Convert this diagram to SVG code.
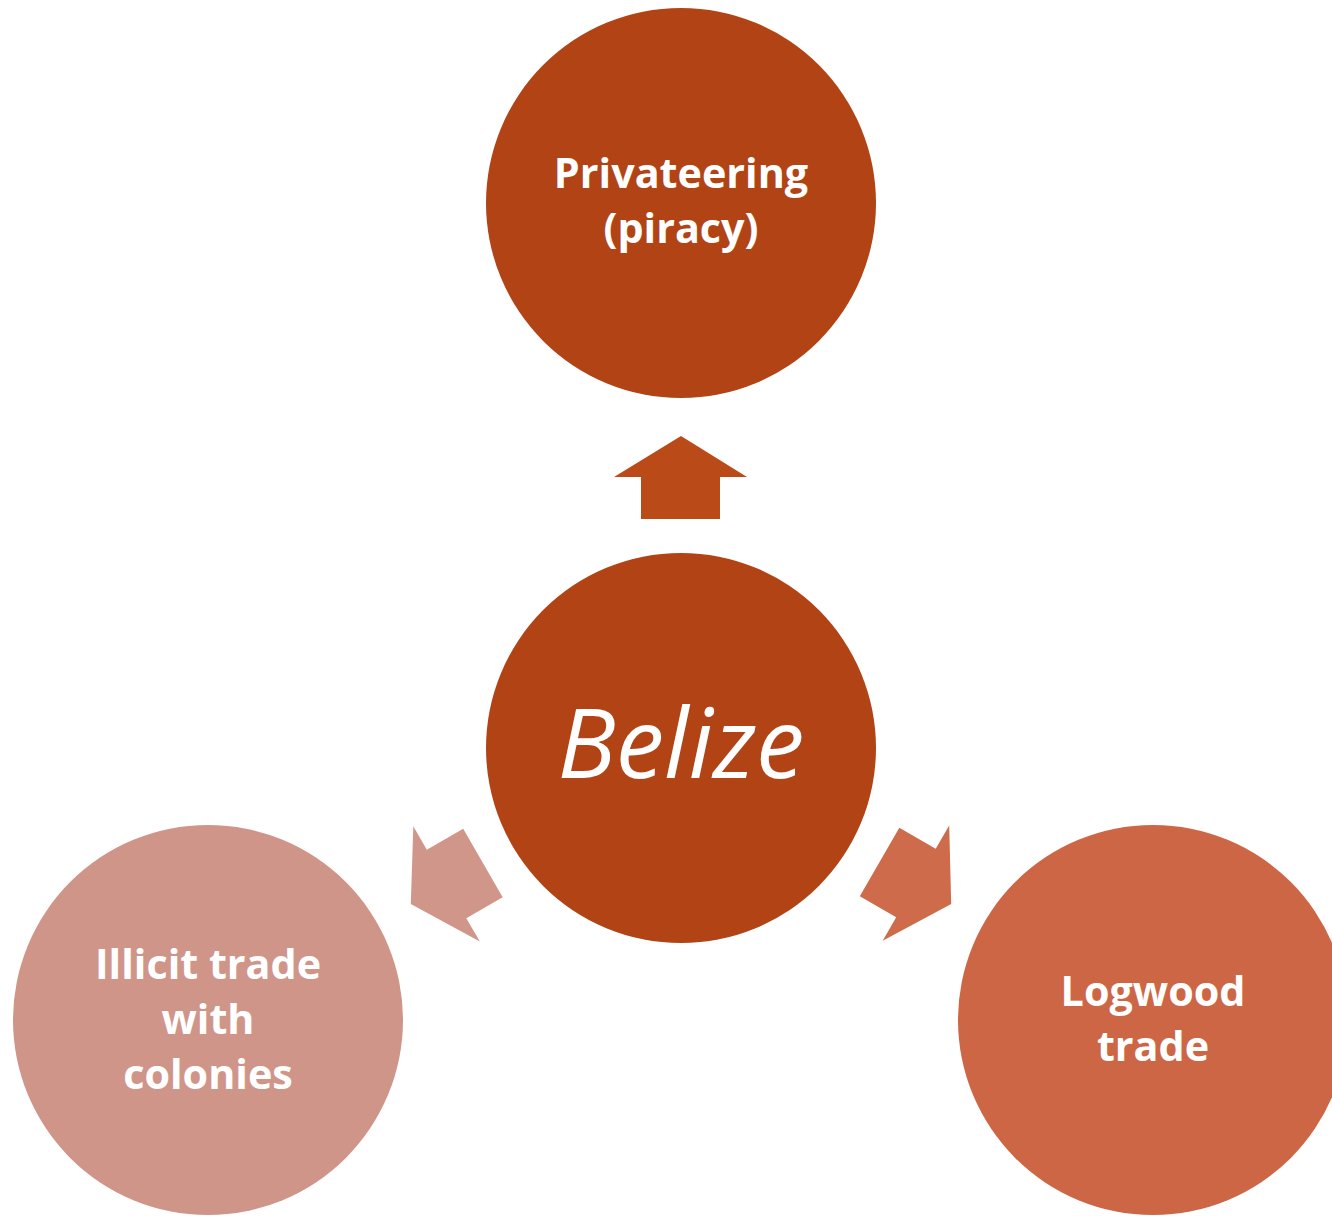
<svg xmlns="http://www.w3.org/2000/svg" width="1332" height="1216" viewBox="0 0 1332 1216">
<defs>
<style>
.lbl{font-family:"Open Sans",Lato,"DejaVu Sans",sans-serif;font-weight:bold;font-size:41.3px;fill:#ffffff;text-anchor:middle}
.ctr{font-family:"Open Sans",Lato,"DejaVu Sans",sans-serif;font-style:italic;font-size:97px;fill:#ffffff;text-anchor:middle}
</style>
<path id="arr" d="M681,436 L747,477 L720,477 L720,519 L641,519 L641,477 L614,477 Z"/>
</defs>
<rect width="1332" height="1216" fill="#ffffff"/>
<g id="connectors">
<use href="#arr" fill="#BA4A17"/>
<use href="#arr" fill="#CE6B4B" transform="rotate(120 681 748)"/>
<use href="#arr" fill="#D1968A" transform="rotate(240 681 748)"/>
</g>
<g id="node-privateering">
<circle cx="681" cy="203" r="195" fill="#B14315"/>
<text class="lbl" x="681" y="188">Privateering</text>
<text class="lbl" x="681" y="243">(piracy)</text>
</g>
<g id="node-belize">
<circle cx="681" cy="748" r="195" fill="#B14315"/>
<text class="ctr" x="681" y="778">Belize</text>
</g>
<g id="node-illicit">
<circle cx="208" cy="1020" r="195" fill="#D09589"/>
<text class="lbl" x="208" y="979">Illicit trade</text>
<text class="lbl" x="208" y="1034">with</text>
<text class="lbl" x="208" y="1089">colonies</text>
</g>
<g id="node-logwood">
<circle cx="1153" cy="1020" r="195" fill="#CD6645"/>
<text class="lbl" x="1153" y="1006">Logwood</text>
<text class="lbl" x="1153" y="1061">trade</text>
</g>
</svg>
